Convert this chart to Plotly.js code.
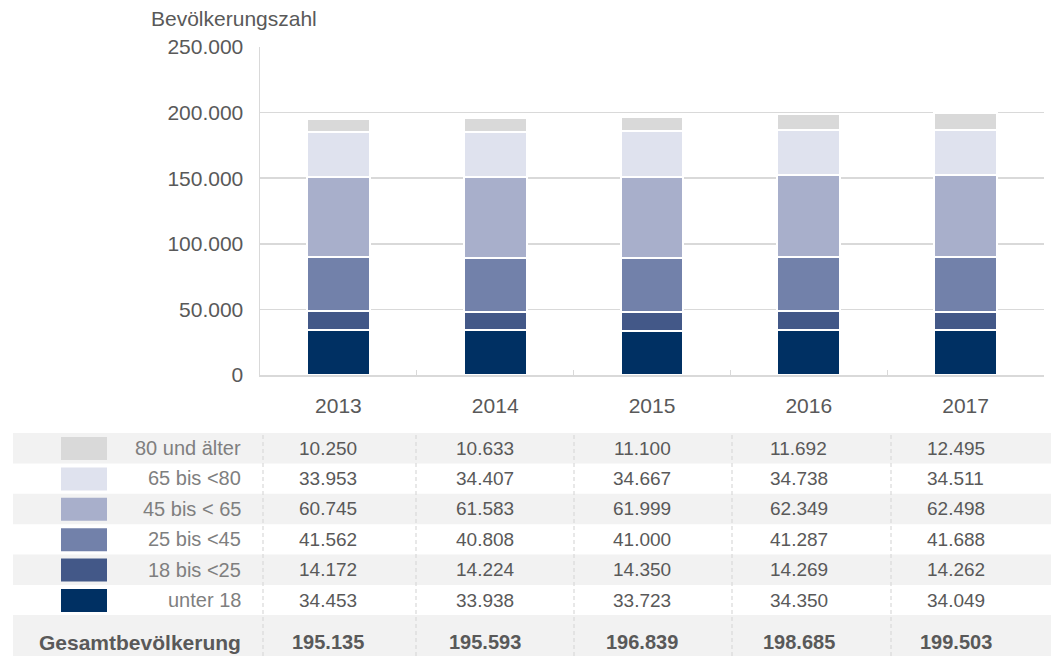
<!DOCTYPE html>
<html>
<head>
<meta charset="utf-8">
<script src="https://cdn.plot.ly/plotly-3.0.1.min.js"></script>
<style>
  html, body { margin: 0; padding: 0; background: #fff; }
  #plot { width: 1059px; height: 656px; }
</style>
</head>
<body>
<div id="plot"></div>
<script>
// data
let years = ["2013", "2014", "2015", "2016", "2017"];
let groups = ["unter 18", "18 bis <25", "25 bis <45", "45 bis < 65", "65 bis <80", "80 und älter"];
let unter18 = [34453, 33938, 33723, 34350, 34049];
let bis25 = [14172, 14224, 14350, 14269, 14262];
let bis45 = [41562, 40808, 41000, 41287, 41688];
let bis65 = [60745, 61583, 61999, 62349, 62498];
let bis80 = [33953, 34407, 34667, 34738, 34511];
let ueber80 = [10250, 10633, 11100, 11692, 12495];
let totals = [195135, 195593, 196839, 198685, 199503];
let colors = ["#003063", "#435888", "#7281aa", "#a8afcb", "#dfe2ee", "#d9d9d9"];

let series = [unter18, bis25, bis45, bis65, bis80, ueber80];

// pixel -> paper helpers (plot area is 260..1044 x 47..375)
let L = 260, R = 1044, T = 47, B = 375;
function px(x) { return (x - L) / (R - L); }
function py(y) { return (B - y) / (B - T); }
function fmt(v) { return String(v).replace(/\B(?=(\d{3})+(?!\d))/g, "."); }

let fontFam = "Liberation Sans, Arial, sans-serif";
let textCol = "#595959";

let data = series.map(function (vals, i) {
    return {
        x: years,
        y: vals,
        name: groups[i],
        type: "bar",
        marker: { color: colors[i], line: { color: "#ffffff", width: 2 } },
        hoverinfo: "y+name"
    };
});

let shapes = [];
let annotations = [];

// table rows, top to bottom: 80 und älter ... unter 18
let rowTop = 433, rowH = 30.4;
for (let r = 0; r < 6; r++) {
    let gi = 5 - r;
    let y0 = rowTop + r * rowH;
    let y1 = y0 + rowH;
    if (r % 2 === 0) {
        shapes.push({ type: "rect", xref: "paper", yref: "paper", layer: "below",
            x0: px(13), x1: px(1051), y0: py(y1), y1: py(y0),
            fillcolor: "#f2f2f2", line: { width: 0 } });
    }
    shapes.push({ type: "rect", xref: "paper", yref: "paper",
        x0: px(61), x1: px(107), y0: py(y0 + 27), y1: py(y0 + 4),
        fillcolor: colors[gi], line: { width: 0 } });
    annotations.push({ xref: "paper", yref: "paper", x: px(243), y: py(y0 + 15),
        xanchor: "right", yanchor: "middle", showarrow: false, text: groups[gi],
        font: { family: fontFam, size: 20, color: "#7f7f7f" } });
    series[gi].forEach(function (v, j) {
        // category index j on the x axis
        annotations.push({ xref: "x", yref: "paper", x: j, y: py(y0 + 15), xshift: -10,
            xanchor: "center", yanchor: "middle", showarrow: false, text: fmt(v),
            font: { family: fontFam, size: 19, color: textCol } });
    });
}

// total row
shapes.push({ type: "rect", xref: "paper", yref: "paper", layer: "below",
    x0: px(13), x1: px(1051), y0: py(656), y1: py(615),
    fillcolor: "#f2f2f2", line: { width: 0 } });
annotations.push({ xref: "paper", yref: "paper", x: px(243), y: py(642),
    xanchor: "right", yanchor: "middle", showarrow: false, text: "<b>Gesamtbevölkerung</b>",
    font: { family: fontFam, size: 21, color: textCol } });
totals.forEach(function (v, j) {
    annotations.push({ xref: "x", yref: "paper", x: j, y: py(642), xshift: -10,
        xanchor: "center", yanchor: "middle", showarrow: false, text: "<b>" + fmt(v) + "</b>",
        font: { family: fontFam, size: 20, color: textCol } });
});

// dashed column dividers
[263, 416, 574, 732, 891].forEach(function (x) {
    shapes.push({ type: "line", xref: "paper", yref: "paper",
        x0: px(x), x1: px(x), y0: py(656), y1: py(433),
        line: { color: "#d9d9d9", width: 1.2, dash: "4px,3px" } });
});

// y axis title
annotations.push({ xref: "paper", yref: "paper", x: px(149), y: py(18),
    xanchor: "left", yanchor: "middle", showarrow: false, text: "Bevölkerungszahl",
    font: { family: fontFam, size: 21, color: textCol } });

let layout = {
    width: 1059,
    height: 656,
    margin: { l: 260, r: 15, t: 47, b: 281 },
    paper_bgcolor: "#ffffff",
    plot_bgcolor: "#ffffff",
    separators: ",.",
    barmode: "stack",
    bargap: 0.6,
    showlegend: false,
    font: { family: fontFam, color: textCol },
    xaxis: {
        type: "category",
        range: [-0.5, 4.5],
        autorange: false,
        showline: true,
        linecolor: "#d9d9d9",
        linewidth: 1.5,
        ticks: "inside",
        tickson: "boundaries",
        ticklen: 5,
        tickcolor: "#d9d9d9",
        tickangle: 0,
        tickfont: { family: fontFam, size: 21, color: textCol },
        ticklabelstandoff: 11,
        showgrid: false
    },
    yaxis: {
        range: [0, 250000],
        autorange: false,
        dtick: 50000,
        tickformat: ",d",
        showline: true,
        linecolor: "#d9d9d9",
        linewidth: 1.5,
        gridcolor: "#d9d9d9",
        gridwidth: 1.5,
        zeroline: false,
        ticks: "",
        tickfont: { family: fontFam, size: 21, color: textCol },
        ticklabelstandoff: 11
    },
    shapes: shapes,
    annotations: annotations
};

Plotly.newPlot("plot", data, layout, { displayModeBar: false, staticPlot: true });
</script>
</body>
</html>
